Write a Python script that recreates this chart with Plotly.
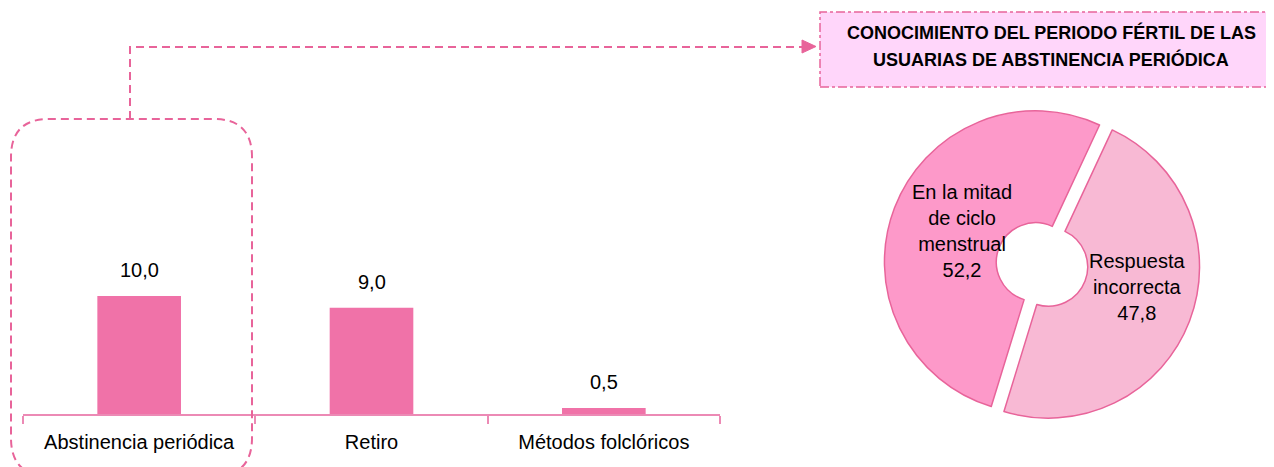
import plotly.graph_objects as go

PAGE_W, PAGE_H = 1274, 467
OFF = 8  # default page body margin
W, H = PAGE_W - OFF, PAGE_H - OFF

# ---- data ----
bar_categories = ["Abstinencia periódica", "Retiro", "Métodos folclóricos"]
bar_values = [10.0, 9.0, 0.5]

pie_labels = ["Respuesta<br>incorrecta", "En la mitad<br>de ciclo<br>menstrual"]
pie_values = [47.8, 52.2]

title_lines = ["CONOCIMIENTO DEL PERIODO FÉRTIL DE LAS",
               "USUARIAS DE ABSTINENCIA PERIÓDICA"]

# ---- styles ----
FONT = "Liberation Sans, Arial, sans-serif"
BAR_COLOR = "#F072A8"
LINE_PINK = "#E8649A"
AXIS_PINK = "#EC8AB5"
PIE_COLORS = ["#F8B9D4", "#FD99C9"]


def px(x):
    return (x - OFF) / W


def py(y):
    return 1 - (y - OFF) / H


def fmt(v):
    return f"{v:.1f}".replace(".", ",")


fig = go.Figure()

fig.add_trace(go.Bar(
    x=bar_categories, y=bar_values, width=0.36,
    marker=dict(color=BAR_COLOR, line=dict(width=0)),
    hoverinfo="skip", showlegend=False,
))

for c, v in zip(bar_categories, bar_values):
    fig.add_annotation(
        x=c, y=v, xref="x", yref="y", text=fmt(v),
        showarrow=False, yanchor="bottom", yshift=13,
        font=dict(family=FONT, size=20, color="#000000"),
    )

fig.add_trace(go.Pie(
    labels=pie_labels, values=pie_values, sort=False, direction="clockwise",
    rotation=25, hole=0.26, pull=[0.045, 0.045],
    marker=dict(colors=PIE_COLORS, line=dict(color=LINE_PINK, width=1.5)),
    textinfo="none",
    domain=dict(x=[px(884), px(1200)], y=[py(423), py(106)]),
    showlegend=False, hoverinfo="skip",
))

# pie labels (label + value)
pie_label_pos = [(1137, 287), (962, 231)]
for lab, val, (lx, ly) in zip(pie_labels, pie_values, pie_label_pos):
    fig.add_annotation(
        x=px(lx), y=py(ly), xref="paper", yref="paper",
        text=f"{lab}<br>{fmt(val)}", showarrow=False, align="center",
        xanchor="center", yanchor="middle",
        font=dict(family=FONT, size=20, color="#000000"),
    )

fig.update_layout(
    width=W, height=H,
    margin=dict(l=0, r=0, t=0, b=0),
    paper_bgcolor="white", plot_bgcolor="white",
    separators=",.",
    font=dict(family=FONT, size=20, color="#000000"),
    xaxis=dict(
        domain=[px(23), px(720)], range=[-0.5, 2.5],
        showline=True, linecolor=AXIS_PINK, linewidth=1.5,
        ticks="outside", tickson="boundaries", ticklen=8, tickcolor=AXIS_PINK, tickwidth=1.5,
        showgrid=False, zeroline=False, ticklabelstandoff=9,
        tickfont=dict(family=FONT, size=20, color="#000000"),
    ),
    yaxis=dict(
        domain=[py(414), py(178)], range=[0, 20],
        visible=False, showgrid=False, zeroline=False,
    ),
)

dash = "8px,5px"
# rounded dashed frame around first category
x0, x1, y0, y1, r = 11, 252, 119, 476, 38
path = (f"M {px(x0 + r)},{py(y1)} Q {px(x0)},{py(y1)} {px(x0)},{py(y1 - r)} "
        f"L {px(x0)},{py(y0 + r)} "
        f"Q {px(x0)},{py(y0)} {px(x0 + r)},{py(y0)} "
        f"L {px(x1 - r)},{py(y0)} "
        f"Q {px(x1)},{py(y0)} {px(x1)},{py(y0 + r)} "
        f"L {px(x1)},{py(y1 - r)} Q {px(x1)},{py(y1)} {px(x1 - r)},{py(y1)} Z")
fig.add_shape(type="path", xref="paper", yref="paper", path=path,
              line=dict(color=LINE_PINK, width=2, dash=dash))
# connector
conn = f"M {px(130)},{py(119)} L {px(130)},{py(47)} L {px(803)},{py(47)}"
fig.add_shape(type="path", xref="paper", yref="paper", path=conn,
              line=dict(color=LINE_PINK, width=2, dash=dash))
# arrow head
head = f"M {px(802)},{py(40)} L {px(816)},{py(46.5)} L {px(802)},{py(53)} Z"
fig.add_shape(type="path", xref="paper", yref="paper", path=head,
              fillcolor=LINE_PINK, line=dict(color=LINE_PINK, width=1))
# title box
fig.add_shape(type="rect", xref="paper", yref="paper",
              x0=px(820), x1=px(1290), y0=py(87), y1=py(12),
              fillcolor="#FFD6FA", line=dict(color=LINE_PINK, width=1.5, dash="dashdot"))
for line, ly in zip(title_lines, [33, 59]):
    fig.add_annotation(
        x=px(1051), y=py(ly), xref="paper", yref="paper", text=f"<b>{line}</b>",
        showarrow=False, xanchor="center", yanchor="middle", align="center",
        font=dict(family=FONT, size=18, color="#000000"),
    )

fig.write_html("out.html")
